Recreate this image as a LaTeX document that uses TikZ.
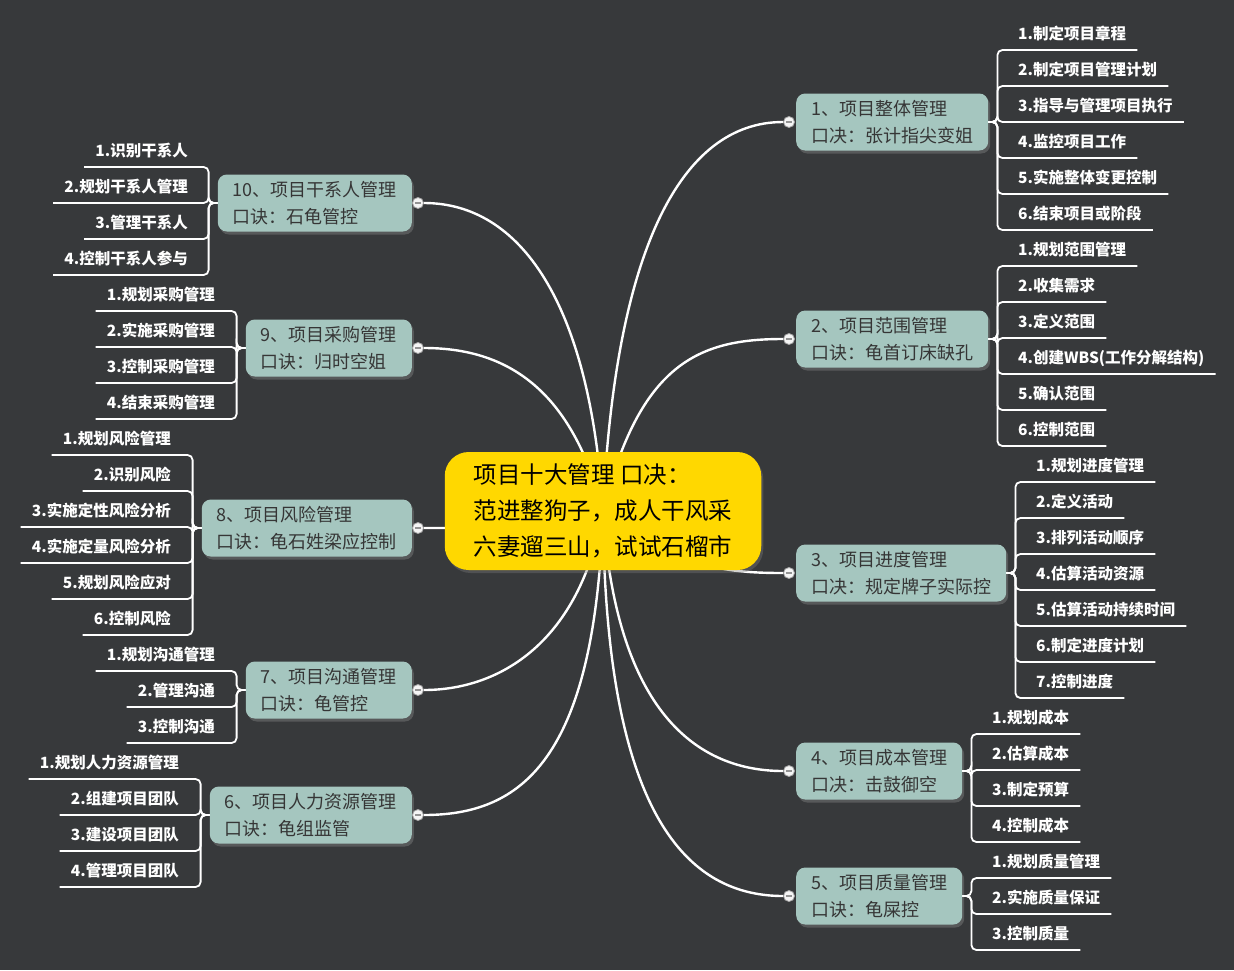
\documentclass[tikz,border=0pt]{standalone}
\usepackage{fontspec}
\usepackage{tikz}
\usetikzlibrary{backgrounds,shadows}
\newfontfamily\cjk{Noto Sans CJK SC}
\definecolor{mapbg}{HTML}{37393B}
\definecolor{mapcore}{HTML}{FFD800}
\definecolor{mapsage}{HTML}{A5C6BF}
\definecolor{mapink}{HTML}{363636}

\begin{document}
\begin{tikzpicture}[x=1pt, y=-1pt,
  hubbox/.style={rounded corners=24pt, fill=mapcore, align=left, inner xsep=29pt,
    minimum height=118pt, text=black, font=\cjk\fontsize{23.5}{36}\selectfont,
    drop shadow={shadow xshift=2pt, shadow yshift=-3pt, opacity=0.35}},
  procbox/.style={rounded corners=9pt, fill=mapsage, align=left, inner xsep=15pt,
    inner ysep=4pt, minimum height=57pt, text=mapink, font=\cjk\fontsize{18}{27}\selectfont,
    drop shadow={shadow xshift=2pt, shadow yshift=-3pt, opacity=0.45}},
  itemR/.style={anchor=south west, inner xsep=11pt, inner ysep=0pt, text depth=10pt,
    text=white, font=\cjk\bfseries\fontsize{15.5}{16}\selectfont},
  itemL/.style={itemR, anchor=south east},
  knob/.style={circle, draw=gray!70, fill=white!92!gray, line width=0.8pt,
    minimum size=11pt, inner sep=0pt,
    path picture={\draw[gray!85, line width=1.6pt]
      ([xshift=-3.2pt]path picture bounding box.center) --
      ([xshift=3.2pt]path picture bounding box.center);}},
  twig/.style={draw=white, line width=1.8pt, rounded corners=5pt},
  stem/.style={draw=white, line width=2.4pt},
]
\useasboundingbox (0,0) rectangle (1234,970);
\begin{scope}[on background layer]
  \fill[mapbg] (0,0) rectangle (1234,970);
\end{scope}

% centre
\node[hubbox] (core) at (603,511) {项目十大管理 口决：\\范进整狗子，成人干风采\\六妻遛三山，试试石榴市};

% right side
\node[procbox, anchor=west] (p1) at (796,122) {1、项目整体管理\\口决：张计指尖变姐};
\node[procbox, anchor=west] (p2) at (796,339) {2、项目范围管理\\口诀：龟首订床缺孔};
\node[procbox, anchor=west] (p3) at (796,573) {3、项目进度管理\\口决：规定牌子实际控};
\node[procbox, anchor=west] (p4) at (796,771) {4、项目成本管理\\口决：击鼓御空};
\node[procbox, anchor=west] (p5) at (796,896) {5、项目质量管理\\口诀：龟屎控};
\foreach \p in {1,...,5} {
  \node[knob] (k\p) at ([xshift=-7pt]p\p.west) {};
}

% left side
\node[procbox, anchor=east] (p10) at (412,203) {10、项目干系人管理\\口诀：石龟管控};
\node[procbox, anchor=east] (p9) at (412,348) {9、项目采购管理\\口诀：归时空姐};
\node[procbox, anchor=east] (p8) at (412,528) {8、项目风险管理\\口诀：龟石姓梁应控制};
\node[procbox, anchor=east] (p7) at (412,690) {7、项目沟通管理\\口诀：龟管控};
\node[procbox, anchor=east] (p6) at (412,815) {6、项目人力资源管理\\口诀：龟组监管};
\foreach \p in {6,...,10} {
  \node[knob] (k\p) at ([xshift=6pt]p\p.east) {};
}

% leaves, right
\foreach \i/\ly/\t in {1/50/制定项目章程, 2/86/制定项目管理计划, 3/122/指导与管理项目执行,
    4/158/监控项目工作, 5/194/实施整体变更控制, 6/230/结束项目或阶段} {
  \node[itemR] (l1-\i) at (1007,\ly) {\i.\t};
  \draw[twig] (p1.east) -- ++(9,0) |- (l1-\i.south west) -- (l1-\i.south east);
}
\foreach \i/\ly/\t in {1/266/规划范围管理, 2/302/收集需求, 3/338/定义范围,
    4/374/创建WBS(工作分解结构), 5/410/确认范围, 6/446/控制范围} {
  \node[itemR] (l2-\i) at (1007,\ly) {\i.\t};
  \draw[twig] (p2.east) -- ++(9,0) |- (l2-\i.south west) -- (l2-\i.south east);
}
\foreach \i/\ly/\t in {1/482/规划进度管理, 2/518/定义活动, 3/554/排列活动顺序, 4/590/估算活动资源,
    5/626/估算活动持续时间, 6/662/制定进度计划, 7/698/控制进度} {
  \node[itemR] (l3-\i) at (1025,\ly) {\i.\t};
  \draw[twig] (p3.east) -- ++(9,0) |- (l3-\i.south west) -- (l3-\i.south east);
}
\foreach \i/\ly/\t in {1/734/规划成本, 2/770/估算成本, 3/806/制定预算, 4/842/控制成本} {
  \node[itemR] (l4-\i) at (981,\ly) {\i.\t};
  \draw[twig] (p4.east) -- ++(9,0) |- (l4-\i.south west) -- (l4-\i.south east);
}
\foreach \i/\ly/\t in {1/878/规划质量管理, 2/914/实施质量保证, 3/950/控制质量} {
  \node[itemR] (l5-\i) at (981,\ly) {\i.\t};
  \draw[twig] (p5.east) -- ++(9,0) |- (l5-\i.south west) -- (l5-\i.south east);
}

% leaves, left
\foreach \i/\ly/\t in {1/167/识别干系人, 2/203/规划干系人管理, 3/239/管理干系人, 4/275/控制干系人参与} {
  \node[itemL] (l10-\i) at (199,\ly) {\i.\t};
  \draw[twig] (p10.west) -- ++(-9,0) |- (l10-\i.south east) -- (l10-\i.south west);
}
\foreach \i/\ly/\t in {1/311/规划采购管理, 2/347/实施采购管理, 3/383/控制采购管理, 4/419/结束采购管理} {
  \node[itemL] (l9-\i) at (226,\ly) {\i.\t};
  \draw[twig] (p9.west) -- ++(-9,0) |- (l9-\i.south east) -- (l9-\i.south west);
}
\foreach \i/\ly/\t in {1/455/规划风险管理, 2/491/识别风险, 3/527/实施定性风险分析,
    4/563/实施定量风险分析, 5/599/规划风险应对, 6/635/控制风险} {
  \node[itemL] (l8-\i) at (182,\ly) {\i.\t};
  \draw[twig] (p8.west) -- ++(-9,0) |- (l8-\i.south east) -- (l8-\i.south west);
}
\foreach \i/\ly/\t in {1/671/规划沟通管理, 2/707/管理沟通, 3/743/控制沟通} {
  \node[itemL] (l7-\i) at (226,\ly) {\i.\t};
  \draw[twig] (p7.west) -- ++(-9,0) |- (l7-\i.south east) -- (l7-\i.south west);
}
\foreach \i/\ly/\t in {1/779/规划人力资源管理, 2/815/组建项目团队, 3/851/建设项目团队, 4/887/管理项目团队} {
  \node[itemL] (l6-\i) at (190,\ly) {\i.\t};
  \draw[twig] (p6.west) -- ++(-9,0) |- (l6-\i.south east) -- (l6-\i.south west);
}

% stems from the centre, behind it
\begin{scope}[on background layer]
  \draw[stem] (core.center) .. controls +(12,-259) and +(-109,0) .. (k1);
  \draw[stem] (core.center) .. controls +(37,-149) and +(-89,0) .. (k2);
  \draw[stem] (core.center) .. controls +(80,52) and +(-80,0) .. (k3);
  \draw[stem] (core.center) .. controls +(12,191) and +(-99,0) .. (k4);
  \draw[stem] (core.center) .. controls +(2,291) and +(-109,0) .. (k5);
  \draw[stem] (core.center) .. controls +(-8,251) and +(102,0) .. (k6);
  \draw[stem] (core.center) .. controls +(-23,131) and +(82,0) .. (k7);
  \draw[stem] (core.center) .. controls +(-83,18) and +(52,0) .. (k8);
  \draw[stem] (core.center) .. controls +(-33,-129) and +(82,0) .. (k9);
  \draw[stem] (core.center) .. controls +(-13,-209) and +(102,0) .. (k10);
\end{scope}
\end{tikzpicture}
\end{document}
